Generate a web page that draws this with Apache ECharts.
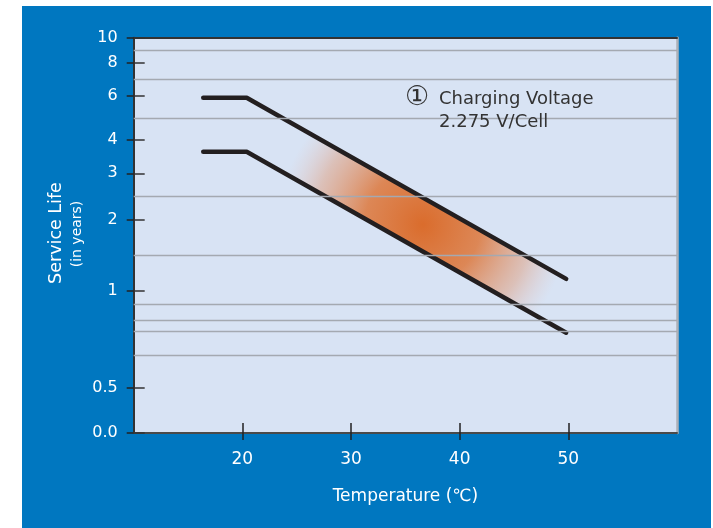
<!DOCTYPE html>
<html><head><meta charset="utf-8">
<script src="https://cdn.jsdelivr.net/npm/echarts@6/dist/echarts.min.js"></script>
<style>html,body{margin:0;padding:0;background:#fff}#c{width:713px;height:528px}</style>
</head><body><div id="c"></div>
<script>
// ---- data ----
const yTickValues = [0, 0.5, 1, 2, 3, 4, 6, 8, 10];
const yTickLabels = ['0.0', '0.5', '1', '2', '3', '4', '6', '8', '10'];
// scale definition of the hand-drawn y axis: share of the axis height (0..100) at each tick value
const yScaleAt = [0, 11.4, 35.92, 53.96, 65.7, 74.2, 85.25, 93.68, 100];
const yGridValues = [9, 7, 5, 2.5, 1.5, 0.93, 0.85, 0.79, 0.67];
const xTickValues = [20, 30, 40, 50];
const temperature = [16.4, 20.4, 49.8];
const lifeUpper = [5.92, 5.92, 1.17];
const lifeLower = [3.64, 3.64, 0.785];
const glowTemperature = 36.6;

// piecewise scale: years -> axis units
function toAxis(v) {
  for (let i = 0; i < yTickValues.length - 1; i++) {
    const a = yTickValues[i], b = yTickValues[i + 1];
    if (v <= b || i === yTickValues.length - 2) {
      return yScaleAt[i] + (v - a) / (b - a) * (yScaleAt[i + 1] - yScaleAt[i]);
    }
  }
}
const yTickPos = yTickValues.map(toAxis);
function labelFor(p) {
  for (let i = 0; i < yTickPos.length; i++) if (Math.abs(yTickPos[i] - p) < 1e-6) return yTickLabels[i];
  return '';
}
function lineAt(t, life) {
  const f = (t - temperature[1]) / (temperature[2] - temperature[1]);
  return toAxis(life[1]) + f * (toAxis(life[2]) - toAxis(life[1]));
}
const glowMid = (lineAt(glowTemperature, lifeUpper) + lineAt(glowTemperature, lifeLower)) / 2;

const FONT = 'DejaVu Sans';
const chart = echarts.init(document.getElementById('c'));

const glowStops = [
  { offset: 0, color: 'rgba(218,108,44,1)' },
  { offset: 0.4, color: 'rgba(221,122,64,0.88)' },
  { offset: 0.75, color: 'rgba(224,150,112,0.45)' },
  { offset: 1, color: 'rgba(230,185,175,0)' }
];

const xBase = { type: 'value', min: 10, max: 60, splitLine: { show: false } };
const yBase = { type: 'value', min: 0, max: 100, splitLine: { show: false } };

chart.setOption({
  animation: false,
  backgroundColor: 'transparent',
  grid: { left: 133.7, right: 36, top: 37.7, bottom: 95, show: true, backgroundColor: '#d8e3f4', borderWidth: 0 },
  graphic: [
    { type: 'rect', z: -100, shape: { x: 22, y: 6, width: 689, height: 522 }, style: { fill: '#0077c0' }, silent: true },
    { type: 'text', x: 56, y: 233, rotation: Math.PI / 2, style: { text: 'Service Life', fill: '#fff', font: '17.5px "' + FONT + '"', textAlign: 'center', textVerticalAlign: 'middle' } },
    { type: 'text', x: 77.5, y: 234, rotation: Math.PI / 2, style: { text: '(in years)', fill: '#fff', font: '14px "' + FONT + '"', textAlign: 'center', textVerticalAlign: 'middle' } },
    { type: 'text', x: 417, y: 98, z: 10, style: { text: '①', fill: '#333', font: '27px "' + FONT + '"', textAlign: 'center', textVerticalAlign: 'middle' } },
    { type: 'text', x: 439, y: 99.5, z: 10, style: { text: 'Charging Voltage', fill: '#333', font: '18px "' + FONT + '"', textAlign: 'left', textVerticalAlign: 'middle' } },
    { type: 'text', x: 439, y: 122.5, z: 10, style: { text: '2.275 V/Cell', fill: '#333', font: '18px "' + FONT + '"', textAlign: 'left', textVerticalAlign: 'middle' } }
  ],
  xAxis: [
    Object.assign({}, xBase, {
      position: 'bottom',
      axisLine: { show: true, onZero: false, lineStyle: { color: '#4a4a4a', width: 2 } },
      axisTick: { show: true, inside: false, length: 7, customValues: xTickValues, lineStyle: { color: '#222', width: 1.5 } },
      axisLabel: { customValues: xTickValues, color: '#fff', fontSize: 17, fontFamily: FONT, margin: 18 },
      name: 'Temperature (℃)', nameLocation: 'middle', nameGap: 55,
      nameTextStyle: { color: '#fff', fontSize: 17, fontFamily: FONT }
    }),
    Object.assign({}, xBase, {
      position: 'bottom',
      axisLine: { show: false, onZero: false },
      axisTick: { show: true, inside: true, length: 10, customValues: xTickValues, lineStyle: { color: '#222', width: 1.5 } },
      axisLabel: { show: false }
    }),
    Object.assign({}, xBase, {
      position: 'top',
      axisLine: { show: true, onZero: false, lineStyle: { color: '#333', width: 2 } },
      axisTick: { show: false }, axisLabel: { show: false }
    })
  ],
  yAxis: [
    Object.assign({}, yBase, {
      position: 'left',
      axisLine: { show: true, onZero: false, lineStyle: { color: '#333', width: 2 } },
      axisTick: { show: true, inside: false, length: 7, customValues: yTickPos, lineStyle: { color: '#222', width: 1.5 } },
      axisLabel: { customValues: yTickPos, formatter: labelFor, color: '#fff', fontSize: 16, fontFamily: FONT, margin: 16 }
    }),
    Object.assign({}, yBase, {
      position: 'left',
      axisLine: { show: false, onZero: false },
      axisTick: { show: true, inside: true, length: 11, customValues: yTickPos, lineStyle: { color: '#333', width: 1.5 } },
      axisLabel: { show: false }
    }),
    Object.assign({}, yBase, {
      position: 'right',
      axisLine: { show: true, onZero: false, lineStyle: { color: '#acb0b8', width: 2.5 } },
      axisTick: { show: false }, axisLabel: { show: false }
    })
  ],
  series: [
    {
      type: 'custom', z: 2, silent: true,
      data: [[glowTemperature, glowMid]],
      renderItem: function (params, api) {
        const pts = temperature.map((t, i) => api.coord([t, toAxis(lifeUpper[i])]));
        for (let i = temperature.length - 1; i >= 0; i--) pts.push(api.coord([temperature[i], toAxis(lifeLower[i])]));
        const c = api.coord([api.value(0), api.value(1)]);
        return {
          type: 'polygon',
          shape: { points: pts },
          style: { fill: { type: 'radial', x: c[0], y: c[1], r: 145, global: true, colorStops: glowStops } }
        };
      }
    },
    {
      type: 'line', z: 3, silent: true, data: [],
      markLine: {
        silent: true, symbol: 'none', label: { show: false },
        lineStyle: { color: '#a4a9b1', width: 1.4, type: 'solid' },
        data: yGridValues.map(v => ({ yAxis: toAxis(v) }))
      }
    },
    {
      type: 'line', z: 4, silent: true, symbol: 'none',
      lineStyle: { color: '#231f20', width: 4.5, cap: 'round', join: 'round' },
      data: temperature.map((t, i) => [t, toAxis(lifeUpper[i])])
    },
    {
      type: 'line', z: 4, silent: true, symbol: 'none',
      lineStyle: { color: '#231f20', width: 4.5, cap: 'round', join: 'round' },
      data: temperature.map((t, i) => [t, toAxis(lifeLower[i])])
    }
  ]
});
</script></body></html>
